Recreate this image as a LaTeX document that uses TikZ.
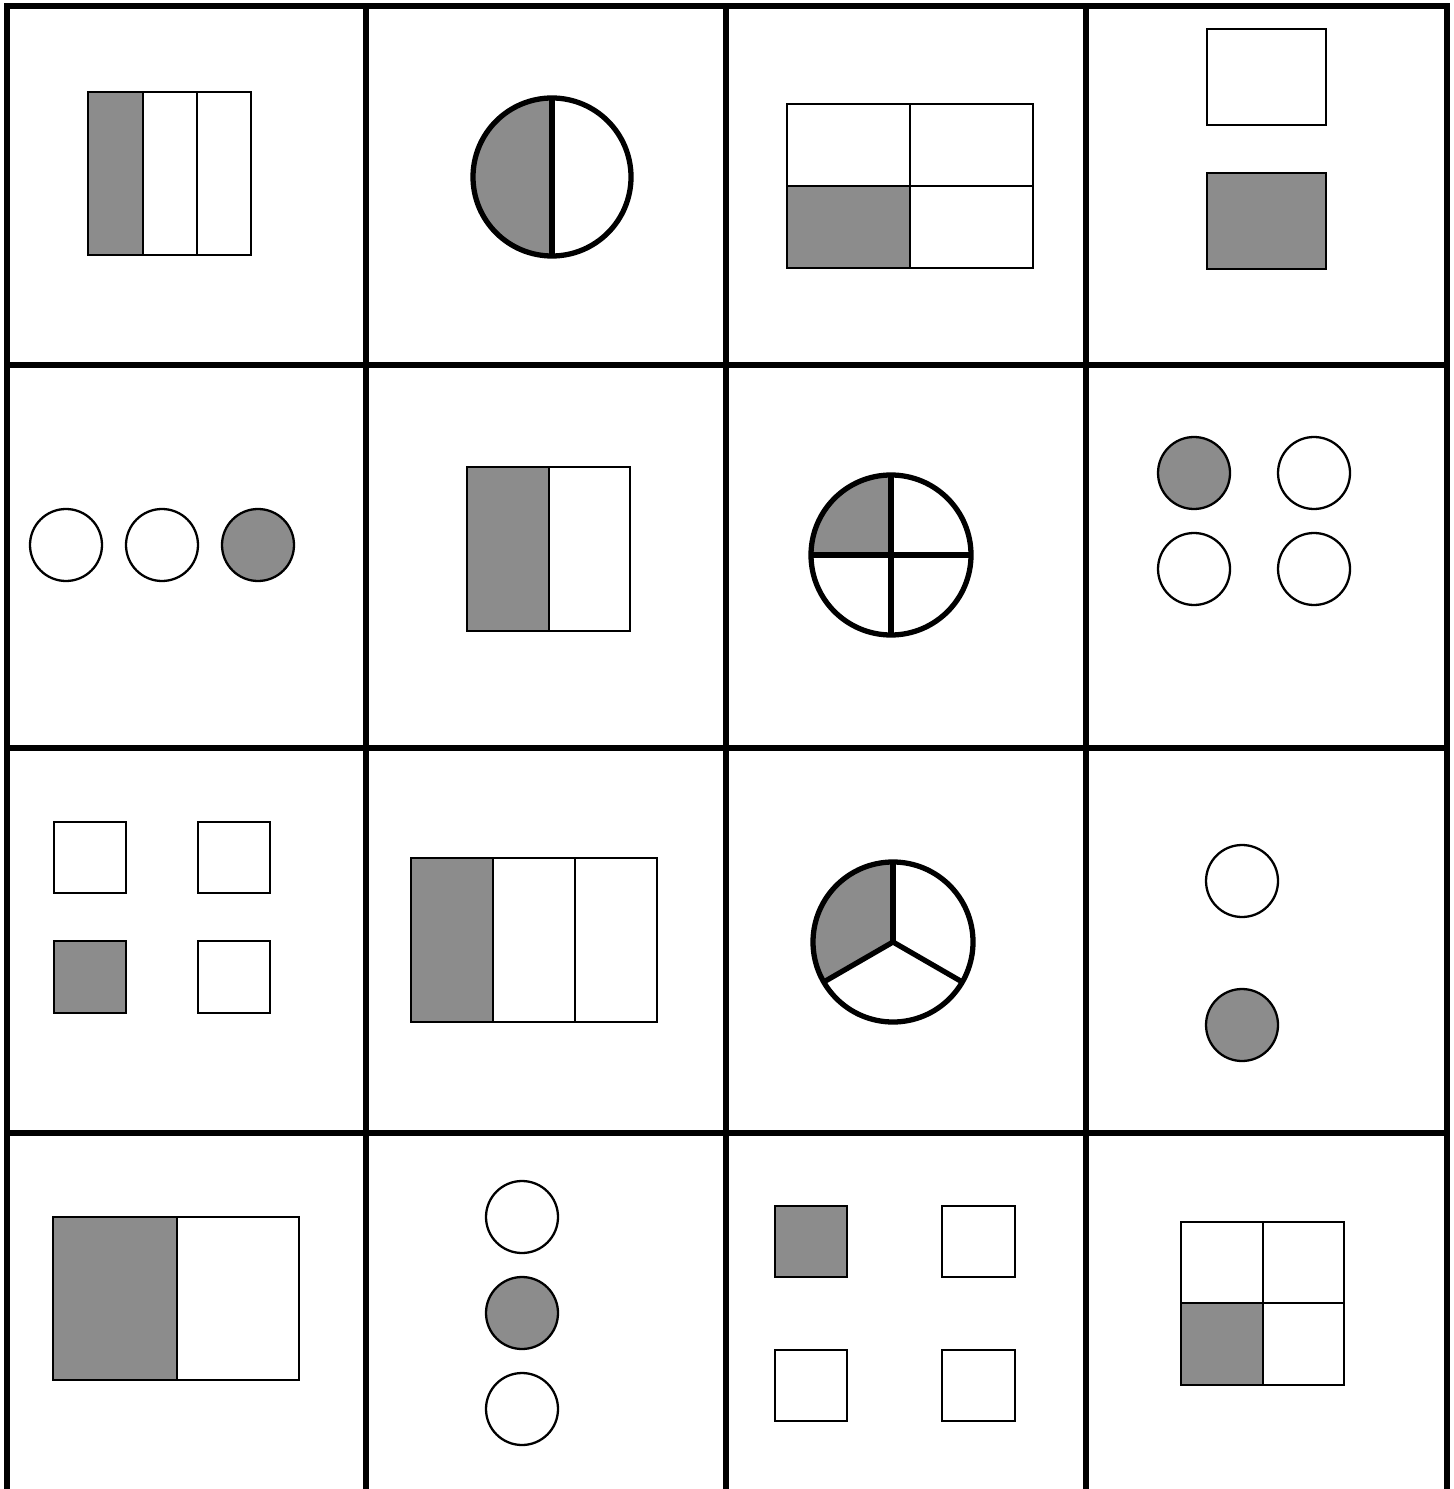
\documentclass[tikz,border=0pt]{standalone}
\usepackage{tikz}

\begin{document}
\begin{tikzpicture}[
  x=0.01cm,
  y=-0.01cm,
  gridline/.style={
    draw=black,
    line width=1.7pt,
    line cap=rect
  },
  part/.style={
    draw=black,
    line width=0.75pt
  },
  pie/.style={
    draw=black,
    line width=1.5pt
  },
  dot/.style={
    draw=black,
    line width=0.65pt
  },
  shade/.style={fill=black!45}
]
  \useasboundingbox (0,0) rectangle (1453,1489);

  \foreach \x in {7,366,726,1086,1447}
    \draw[gridline] (\x,6) -- (\x,1495);
  \foreach \y in {6,365,748,1133}
    \draw[gridline] (7,\y) -- (1447,\y);

  % row 1
  \fill[shade] (88,92) rectangle (143,255);
  \draw[part] (88,92) rectangle (251,255);
  \draw[part] (143,92) -- (143,255);
  \draw[part] (197,92) -- (197,255);

  \fill[shade] (552,177) -- (552,98) arc[start angle=-90, end angle=-270, radius=79] -- cycle;
  \draw[pie] (552,177) circle[radius=79];
  \draw[pie] (552,98) -- (552,256);

  \fill[shade] (787,186) rectangle (910,268);
  \draw[part] (787,104) rectangle (1033,268);
  \draw[part] (910,104) -- (910,268);
  \draw[part] (787,186) -- (1033,186);

  \draw[part] (1207,29) rectangle (1326,125);
  \draw[part,shade] (1207,173) rectangle (1326,269);

  % row 2
  \foreach \x in {66,162}
    \draw[dot] (\x,545) circle[radius=36];
  \draw[dot,shade] (258,545) circle[radius=36];

  \fill[shade] (467,467) rectangle (549,631);
  \draw[part] (467,467) rectangle (630,631);
  \draw[part] (549,467) -- (549,631);

  \fill[shade] (891,555) -- (891,475) arc[start angle=-90, end angle=-180, radius=80] -- cycle;
  \draw[pie] (891,555) circle[radius=80];
  \draw[pie] (891,475) -- (891,635);
  \draw[pie] (811,555) -- (971,555);

  \draw[dot,shade] (1194,473) circle[radius=36];
  \draw[dot] (1314,473) circle[radius=36];
  \draw[dot] (1194,569) circle[radius=36];
  \draw[dot] (1314,569) circle[radius=36];

  % row 3
  \draw[part] (54,822) rectangle (126,893);
  \draw[part] (198,822) rectangle (270,893);
  \draw[part,shade] (54,941) rectangle (126,1013);
  \draw[part] (198,941) rectangle (270,1013);

  \fill[shade] (411,858) rectangle (493,1022);
  \draw[part] (411,858) rectangle (657,1022);
  \draw[part] (493,858) -- (493,1022);
  \draw[part] (575,858) -- (575,1022);

  \fill[shade] (893,942) -- ++(-90:80) arc[start angle=-90, end angle=-210, radius=80] -- cycle;
  \draw[pie] (893,942) circle[radius=80];
  \foreach \a in {-90,-210,-330}
    \draw[pie] (893,942) -- ++(\a:80);

  \draw[dot] (1242,881) circle[radius=36];
  \draw[dot,shade] (1242,1025) circle[radius=36];

  % row 4
  \fill[shade] (53,1217) rectangle (177,1380);
  \draw[part] (53,1217) rectangle (299,1380);
  \draw[part] (177,1217) -- (177,1380);

  \draw[dot] (522,1217) circle[radius=36];
  \draw[dot,shade] (522,1313) circle[radius=36];
  \draw[dot] (522,1409) circle[radius=36];

  \draw[part,shade] (775,1206) rectangle (847,1277);
  \draw[part] (942,1206) rectangle (1015,1277);
  \draw[part] (775,1350) rectangle (847,1421);
  \draw[part] (942,1350) rectangle (1015,1421);

  \fill[shade] (1181,1303) rectangle (1263,1385);
  \draw[part] (1181,1222) rectangle (1344,1385);
  \draw[part] (1263,1222) -- (1263,1385);
  \draw[part] (1181,1303) -- (1344,1303);
\end{tikzpicture}
\end{document}
